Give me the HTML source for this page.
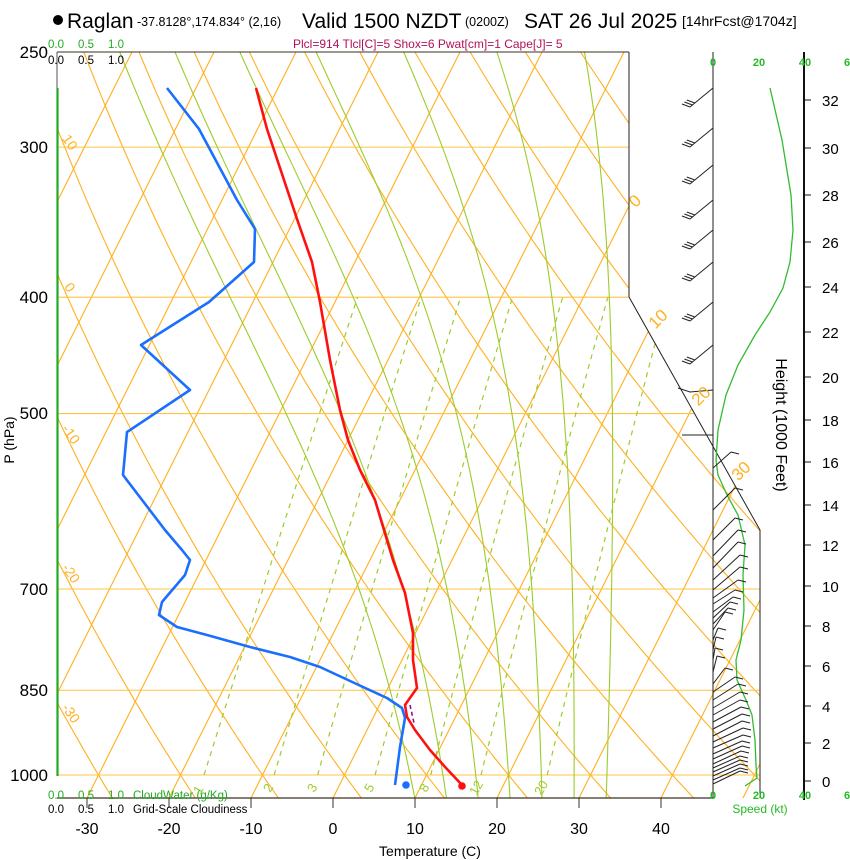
<!DOCTYPE html>
<html><head><meta charset="utf-8">
<style>
html,body{margin:0;padding:0;background:#fff;}
svg{display:block;font-family:"Liberation Sans",Arial,sans-serif;}
</style></head>
<body>
<svg id="s" xmlns="http://www.w3.org/2000/svg" width="850" height="860" viewBox="0 0 850 860">
<defs><clipPath id="c"><polygon points="57,52 629,52 629,297 760,530 760,798 57,798"/></clipPath></defs>
<g id="grid" clip-path="url(#c)"></g>
<g id="fg"></g>
<circle cx="58" cy="20" r="5" fill="#000"/>
<text x="67" y="28" font-size="21">Raglan</text>
<text x="137" y="26" font-size="12.5">-37.8128°,174.834° (2,16)</text>
<text x="302" y="28" font-size="21">Valid 1500 NZDT</text>
<text x="465" y="26" font-size="12.5">(0200Z)</text>
<text x="524" y="28" font-size="21">SAT 26 Jul 2025</text>
<text x="682" y="26" font-size="14">[14hrFcst@1704z]</text>
<text x="293" y="48" font-size="12" fill="#b0125a">Plcl=914 Tlcl[C]=5 Shox=6 Pwat[cm]=1 Cape[J]= 5</text>
<g font-size="11.5" fill="#22aa22"><text x="48" y="48">0.0</text><text x="78" y="48">0.5</text><text x="108" y="48">1.0</text></g>
<g font-size="11.5" fill="#000"><text x="48" y="64">0.0</text><text x="78" y="64">0.5</text><text x="108" y="64">1.0</text></g>
<g font-size="11.5" fill="#22aa22"><text x="48" y="799">0.0</text><text x="78" y="799">0.5</text><text x="108" y="799">1.0</text><text x="133" y="799">CloudWater (g/Kg)</text></g>
<g font-size="11.5" fill="#000"><text x="48" y="813">0.0</text><text x="78" y="813">0.5</text><text x="108" y="813">1.0</text><text x="133" y="813">Grid-Scale Cloudiness</text></g>
<g font-size="17" text-anchor="end" fill="#000">
<text x="48" y="58">250</text><text x="48" y="153">300</text><text x="48" y="303">400</text><text x="48" y="419">500</text><text x="48" y="595">700</text><text x="48" y="696">850</text><text x="48" y="781">1000</text>
</g>
<text transform="translate(14,440) rotate(-90)" font-size="14" text-anchor="middle">P (hPa)</text>
<g font-size="16" text-anchor="middle">
<text x="87" y="834">-30</text><text x="169" y="834">-20</text><text x="251" y="834">-10</text><text x="333" y="834">0</text><text x="415" y="834">10</text><text x="497" y="834">20</text><text x="579" y="834">30</text><text x="661" y="834">40</text>
</g>
<text x="430" y="856" font-size="14" text-anchor="middle">Temperature (C)</text>
<g font-size="11" font-weight="bold" fill="#22bb22" text-anchor="middle">
<text x="713" y="66">0</text><text x="759" y="66">20</text><text x="805" y="66">40</text><text x="847" y="66">6</text>
<text x="713" y="799">0</text><text x="759" y="799">20</text><text x="805" y="799">40</text><text x="847" y="799">6</text>
</g>
<text x="760" y="813" font-size="12" fill="#22bb22" text-anchor="middle">Speed (kt)</text>
<text transform="translate(776,425) rotate(90)" font-size="16" text-anchor="middle">Height (1000 Feet)</text>
<g id="hax" font-size="15"></g>
</svg>
<script>
var NS="http://www.w3.org/2000/svg";
function el(p,t,a){var e=document.createElementNS(NS,t);for(var k in a)e.setAttribute(k,a[k]);p.appendChild(e);return e;}
var G=document.getElementById('grid'),F=document.getElementById('fg'),H=document.getElementById('hax');
function Y(p){return 775-521.5*Math.log(1000/p);}
function X(T,y){return 333+8.2*T+0.5*(798-y);}
var OR="#ffb020",GR="#9ccc2a";
for(var T=-130;T<=50;T+=10){el(G,'line',{x1:X(T,798),y1:798,x2:X(T,52),y2:52,stroke:OR,'stroke-width':1.1});}
for(var th=-60;th<=220;th+=10){var pts=[];for(var p=1050;p>=245;p-=10){var t=(th+273.15)*Math.pow(p/1000,0.2857)-273.15;var y=Y(p);pts.push(X(t,y).toFixed(1)+','+y.toFixed(1));}
el(G,'polyline',{points:pts.join(' '),fill:'none',stroke:OR,'stroke-width':1.1});}
[300,400,500,700,850,1000].forEach(function(p){el(G,'line',{x1:57,x2:760,y1:Y(p),y2:Y(p),stroke:"#ffc440",'stroke-width':1.1});});
function es(t){return 6.112*Math.exp(17.67*t/(t+243.5));}
[1,2,3,5,8,12,20].forEach(function(w){var pts=[];for(var p=1000;p>=400;p-=10){var e=w*p/(622+w);var l=Math.log(e/6.112);var t=243.5*l/(17.67-l);var y=Y(p);pts.push(X(t,y).toFixed(1)+','+y.toFixed(1));}
el(G,'polyline',{points:pts.join(' '),fill:'none',stroke:GR,'stroke-width':1.2,'stroke-dasharray':'5,5'});});
[8,12,16,20,24,28,32].forEach(function(T0){var pts=[],t=T0+273.15;var Rd=287,cp=1005,Lv=2.5e6,eps=0.622;
 var tt=t;for(var p=1000;p<1050;p+=2){var rs=eps*es(tt-273.15)/(p-es(tt-273.15));var d=(Rd*tt+Lv*rs)/(p*(cp+Lv*Lv*rs*eps/(Rd*tt*tt)));tt+=d*2;}
 for(var p=1050;p>=245;p-=2){var y=Y(p);if(p%10==0)pts.push(X(tt-273.15,y).toFixed(1)+','+y.toFixed(1));var e=es(tt-273.15);var rs=eps*e/(p-e);var d=(Rd*tt+Lv*rs)/(p*(cp+Lv*Lv*rs*eps/(Rd*tt*tt)));tt-=d*2;}
 el(G,'polyline',{points:pts.join(' '),fill:'none',stroke:GR,'stroke-width':1.1});});
el(F,'line',{x1:57,y1:52,x2:629,y2:52,stroke:'#3a3020','stroke-width':1});
el(F,'polyline',{points:'629,52 629,297 760,530 760,798',fill:'none',stroke:'#222','stroke-width':1});
el(F,'line',{x1:57,y1:52,x2:57,y2:88,stroke:'#555','stroke-width':1});
el(F,'line',{x1:57.5,y1:88,x2:57.5,y2:776,stroke:'#22aa22','stroke-width':2.2});
el(F,'line',{x1:57,y1:798,x2:713,y2:798,stroke:'#3a3020','stroke-width':1.2});
[87,169,251,333,415,497,579,661].forEach(function(x){el(F,'line',{x1:x,x2:x,y1:798,y2:808,stroke:'#333','stroke-width':1});});
el(F,'line',{x1:713,y1:52,x2:713,y2:798,stroke:'#222','stroke-width':1});
el(F,'line',{x1:804,y1:52,x2:804,y2:800,stroke:'#111','stroke-width':2});
[[0,781],[2,743],[4,706],[6,666],[8,626],[10,586],[12,545],[14,505],[16,462],[18,420],[20,377],[22,332],[24,287],[26,242],[28,195],[30,148],[32,100]].forEach(function(a){
 el(H,'line',{x1:804,x2:811,y1:a[1],y2:a[1],stroke:'#111','stroke-width':1});var t=el(H,'text',{x:822,y:a[1]+6});t.textContent=a[0];});
el(F,'polyline',{points:'770,88 782,140 791,195 793,230 790,262 783,288 770,312 755,335 738,365 726,395 718,430 716,460 718,475 727,495 738,515 745,545 743,575 744,610 741,640 736,660 737,680 746,700 752,715 755,740 756,765 757,778 745,786',fill:'none',stroke:'#33bb33','stroke-width':1.3});
[88,128,165,200,230,262,302,345].forEach(function(y){var tx=690,ty=y+19;el(F,'line',{x1:713,y1:y,x2:tx,y2:ty,stroke:'#222','stroke-width':1});
 for(var i=0;i<3;i++){var bx=tx+i*2.4,by=ty-i*2;el(F,'line',{x1:bx,y1:by,x2:bx-8,y2:by-3,stroke:'#222','stroke-width':1});}});
el(F,'polyline',{points:'678,388 690,392 713,390',fill:'none',stroke:'#222','stroke-width':1});
el(F,'line',{x1:682,y1:435,x2:713,y2:435,stroke:'#222','stroke-width':1});
var lb=[[468,731,452],[510,735,488],[540,735,518],[556,738,530],[568,738,542],[580,740,555],[590,740,567],[598,738,580],[604,735,590],[612,733,597],[618,730,602],[624,728,608],[630,725,612],[640,718,628],[650,716,637],[660,715,648],[672,717,656],[684,725,668],[692,735,677],[700,738,684],[708,740,692],[715,740,700],[722,741,707],[729,742,714],[736,742,721],[742,743,728],[748,743,735],[754,742,741],[759,742,746],[764,741,751],[768,740,756],[772,740,760],[776,740,764],[780,740,768],[784,740,771]];
lb.forEach(function(b){el(F,'line',{x1:713,y1:b[0],x2:b[1],y2:b[2],stroke:'#222','stroke-width':1});el(F,'line',{x1:b[1],y1:b[2],x2:b[1]+8,y2:b[2]+2,stroke:'#222','stroke-width':1});});
el(F,'polyline',{points:'167,88 199,129 237,200 255,229 254,262 209,302 141,345 190,390 127,432 123,475 165,530 182,550 190,560 185,575 162,602 159,615 177,627 207,635 250,647 290,657 320,667 363,687 387,698 402,708 405,718 400,747 395,785',fill:'none',stroke:'#1a6fff','stroke-width':2.6,'stroke-linejoin':'round'});
el(F,'circle',{cx:406,cy:785,r:3.8,fill:'#1a6fff'});
el(F,'polyline',{points:'256,88 267,129 279,165 297,219 312,262 320,302 330,360 340,410 348,440 360,470 375,500 390,550 393,560 405,593 413,633 413,660 417,688 412,695 405,705 407,717 415,730 430,750 446,768 462,785',fill:'none',stroke:'#ff1010','stroke-width':2.6,'stroke-linejoin':'round'});
el(F,'circle',{cx:462,cy:786,r:3.8,fill:'#ff1010'});
el(F,'line',{x1:410,y1:705,x2:414,y2:723,stroke:'#99117a','stroke-width':1.6,'stroke-dasharray':'4,3'});
function lab(x,y,t,r,c,s){var e=el(F,'text',{transform:'translate('+x+','+y+') rotate('+r+')','font-size':s,fill:c,'text-anchor':'middle'});e.textContent=t;}
lab(639,205,'0',-45,OR,17);lab(662,323,'10',-45,OR,17);lab(705,400,'20',-45,OR,17);lab(745,475,'30',-45,OR,17);
lab(66,145,'10',55,OR,14);lab(66,290,'0',55,OR,14);lab(67,437,'-10',55,OR,14);lab(67,576,'-20',55,OR,14);lab(67,716,'-30',55,OR,14);
[[202,792,'1'],[272,790,'2'],[316,790,'3'],[373,790,'5'],[428,790,'8'],[480,790,'12'],[545,790,'20']].forEach(function(a){lab(a[0],a[1],a[2],-60,GR,13);});
</script>
</body></html>
